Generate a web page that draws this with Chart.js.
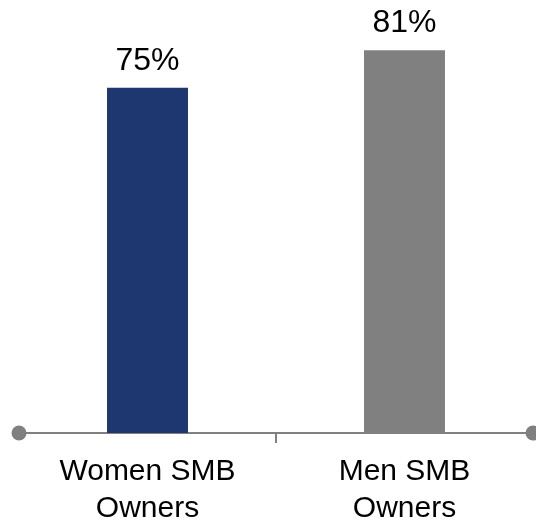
<!DOCTYPE html>
<html>
<head>
<meta charset="utf-8">
<script src="https://cdn.jsdelivr.net/npm/chart.js@4"></script>
<style>
  body { margin: 0; background: #fff; }
  #wrap { width: 536px; height: 522px; position: relative; }
</style>
</head>
<body>
<div id="wrap"><canvas id="smbChart"></canvas></div>
<script>
const categories = [['Women SMB', 'Owners'], ['Men SMB', 'Owners']];
const percentValues = [75, 81];
const barColors = ['#1f3770', '#808080'];

const FONT = "'Liberation Sans', Arial, sans-serif";
const AXIS_GRAY = '#808080';

// value labels above each bar + round caps on both ends of the axis
const barDecor = {
    id: 'barDecor',
    afterDatasetsDraw(chart) {
        const ctx = chart.ctx;
        const meta = chart.getDatasetMeta(0);
        ctx.save();
        ctx.font = '32px ' + FONT;
        ctx.fillStyle = '#000';
        ctx.textAlign = 'center';
        ctx.textBaseline = 'alphabetic';
        meta.data.forEach(function (bar, i) {
            ctx.fillText(percentValues[i] + '%', bar.x, bar.y - 18);
        });
        ctx.restore();
    },
    afterDraw(chart) {
        const ctx = chart.ctx;
        const area = chart.chartArea;
        ctx.save();
        ctx.fillStyle = AXIS_GRAY;
        [area.left, area.right].forEach(function (x) {
            ctx.beginPath();
            ctx.arc(x, area.bottom, 7.5, 0, Math.PI * 2);
            ctx.fill();
        });
        ctx.restore();
    }
};

new Chart(document.getElementById('smbChart'), {
    type: 'bar',
    data: {
        labels: categories,
        datasets: [{
            data: percentValues,
            backgroundColor: barColors,
            borderWidth: 0,
            categoryPercentage: 1,
            barPercentage: 0.315
        }]
    },
    options: {
        responsive: true,
        maintainAspectRatio: false,
        animation: false,
        layout: { padding: { left: 19, right: 3, top: 0, bottom: 0 } },
        plugins: {
            legend: { display: false },
            tooltip: { enabled: false }
        },
        scales: {
            x: {
                border: { display: true, color: AXIS_GRAY, width: 2 },
                grid: {
                    drawOnChartArea: false,
                    drawTicks: true,
                    tickLength: 10,
                    lineWidth: 2,
                    color: function (c) {
                        return c.index === 1 ? AXIS_GRAY : 'rgba(0,0,0,0)';
                    }
                },
                ticks: {
                    color: '#000',
                    padding: 10,
                    maxRotation: 0,
                    font: { family: FONT, size: 30, lineHeight: '37px' }
                },
                afterFit(scale) {
                    scale.height = 89;
                }
            },
            y: {
                display: false,
                min: 20,
                max: 89
            }
        }
    },
    plugins: [barDecor]
});
</script>
</body>
</html>
